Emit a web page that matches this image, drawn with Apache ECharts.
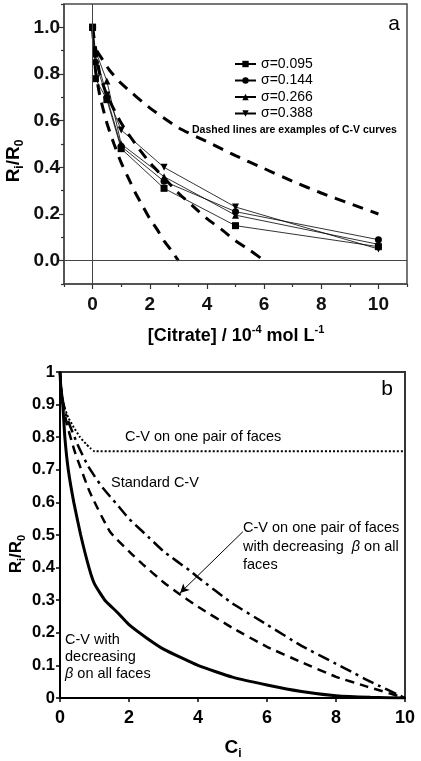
<!DOCTYPE html>
<html><head><meta charset="utf-8">
<script src="https://cdn.jsdelivr.net/npm/echarts/dist/echarts.min.js"></script>
<style>html,body{margin:0;padding:0;background:#fff}#c{width:421px;height:761px}</style>
</head><body><div id="c"></div>
<script>
// ---------- Panel a: measured data ----------
const citrate = [0, 0.1, 0.5, 1, 2.5, 5, 10];
const sig095 = [1.0, 0.78, 0.69, 0.48, 0.31, 0.15, 0.06];
const sig144 = [1.0, 0.85, 0.70, 0.49, 0.34, 0.21, 0.09];
const sig266 = [1.0, 0.90, 0.77, 0.50, 0.36, 0.195, 0.07];
const sig388 = [1.0, 0.88, 0.71, 0.56, 0.40, 0.23, 0.05];
const seriesNamesA = ['σ=0.095', 'σ=0.144', 'σ=0.266', 'σ=0.388'];
// example C-V curves (dashed)
const cv1X = [0.15, 0.25, 0.6, 1, 2, 3, 4, 5, 6, 7, 8, 9, 10];
const cv1Y = [0.9, 0.88, 0.815, 0.76, 0.655, 0.57, 0.51, 0.45, 0.395, 0.34, 0.29, 0.245, 0.2];
const cv2X = [0, 0.25, 0.5, 1, 1.5, 2, 2.5, 3, 3.5, 4, 4.5, 5, 5.5, 6];
const cv2Y = [1, 0.80, 0.71, 0.59, 0.50, 0.42, 0.355, 0.29, 0.235, 0.18, 0.135, 0.085, 0.045, 0];
const cv3X = [0, 0.1, 0.25, 0.5, 0.75, 1, 1.25, 1.5, 1.75, 2, 2.25, 2.5, 2.75, 3];
const cv3Y = [1, 0.82, 0.71, 0.59, 0.50, 0.42, 0.355, 0.29, 0.235, 0.18, 0.135, 0.085, 0.045, 0];
const aXLabels = [0, 2, 4, 6, 8, 10];
const aXMinor = [-1, 1, 3, 5, 7, 9, 11];
const aYLabels = [0, 0.2, 0.4, 0.6, 0.8, 1.0];
const aYMinor = [-0.1, 0.1, 0.3, 0.5, 0.7, 0.9, 1.1];

// ---------- Panel b: model curves ----------
const solidX = [0, 0.02, 0.08, 0.14, 0.24, 0.4, 0.6, 0.84, 1.0, 1.3, 1.65, 2, 2.5, 3, 4, 5, 6, 7, 8, 9, 10];
const solidY = [1, 0.96, 0.9, 0.8, 0.7, 0.6, 0.5, 0.4, 0.35, 0.3, 0.264, 0.225, 0.185, 0.15, 0.1, 0.064, 0.04, 0.02, 0.007, 0.002, 0];
const dotX = [0, 0.05, 0.12, 0.24, 0.4, 0.58, 0.75, 0.87, 1.0, 10];
const dotY = [1, 0.93, 0.895, 0.86, 0.83, 0.80, 0.78, 0.767, 0.757, 0.757];
const dashDotX = [0, 0.05, 0.2, 0.5, 0.82, 1.2, 1.64, 2, 2.6, 3, 3.77, 4, 5, 6, 7, 8, 8.4, 9, 10];
const dashDotY = [1, 0.93, 0.86, 0.78, 0.71, 0.65, 0.595, 0.55, 0.49, 0.45, 0.39, 0.37, 0.29, 0.225, 0.16, 0.105, 0.083, 0.05, 0];
const dashX = [0, 0.03, 0.09, 0.2, 0.43, 0.87, 1.45, 2, 2.4, 3, 3.38, 4, 5, 6, 7, 8, 8.9, 10];
const dashY = [1, 0.95, 0.9, 0.84, 0.755, 0.63, 0.51, 0.45, 0.41, 0.355, 0.325, 0.28, 0.215, 0.157, 0.11, 0.065, 0.035, 0];
const arrowFrom = [5.3, 0.51];
const arrowTo = [3.48, 0.322];

const FONT = "'Liberation Sans', Arial, sans-serif";
const zip = (xs, ys) => xs.map((x, i) => [x, ys[i]]);

const chart = echarts.init(document.getElementById('c'), null, {renderer: 'canvas'});

const dataLine = (name, ys, symbol, rot) => ({
  name, type: 'line', xAxisIndex: 0, yAxisIndex: 0,
  data: zip(citrate, ys), symbol, symbolSize: 7, symbolRotate: rot || 0,
  itemStyle: {color: '#000'}, lineStyle: {color: '#000', width: 0.8},
  z: 4
});
const cvLine = (xs, ys) => ({
  type: 'line', xAxisIndex: 0, yAxisIndex: 0, data: zip(xs, ys),
  showSymbol: false, symbol: 'none', smooth: 0.2,
  lineStyle: {color: '#000', width: 3, type: [11, 8]}, z: 3, silent: true
});
const bLine = (xs, ys, type, width) => ({
  type: 'line', xAxisIndex: 2, yAxisIndex: 2, data: zip(xs, ys),
  showSymbol: false, symbol: 'none', smooth: 0.15,
  lineStyle: {color: '#000', width, type}, silent: true
});

const sub = {fontSize: 12, fontWeight: 'bold', fontFamily: FONT, verticalAlign: 'bottom', lineHeight: 11, color: '#000'};
const sup = {fontSize: 11, fontWeight: 'bold', fontFamily: FONT, verticalAlign: 'top', lineHeight: 11, color: '#000'};

const option = {
  animation: false,
  backgroundColor: '#fff',
  textStyle: {fontFamily: FONT},
  grid: [
    {left: 64, top: 4, width: 343, height: 280, show: true, borderColor: '#4a4a4a', borderWidth: 1.5, backgroundColor: 'transparent'},
    {left: 60, top: 372, width: 345, height: 326, show: true, borderColor: '#333', borderWidth: 2, backgroundColor: 'transparent'}
  ],
  xAxis: [
    {gridIndex: 0, type: 'value', position: 'bottom', min: -1, max: 11, interval: 1,
     axisLine: {onZero: false, lineStyle: {color: '#4a4a4a', width: 1.5}},
     axisTick: {customValues: aXLabels, length: 5, lineStyle: {color: '#333', width: 1.2}},
     axisLabel: {customValues: aXLabels, margin: 11, fontSize: 19, fontWeight: 'bold', color: '#111', fontFamily: FONT},
     splitLine: {show: false}},
    {gridIndex: 0, type: 'value', position: 'bottom', min: -1, max: 11, interval: 1,
     axisLine: {show: false, onZero: false},
     axisTick: {customValues: aXMinor, length: 3, lineStyle: {color: '#333', width: 1.2}},
     axisLabel: {show: false}, splitLine: {show: false}},
    {gridIndex: 1, type: 'value', position: 'bottom', min: 0, max: 10, interval: 2,
     axisLine: {onZero: false, lineStyle: {color: '#000', width: 2}},
     axisTick: {length: 4, lineStyle: {color: '#000', width: 1.5}},
     axisLabel: {margin: 11, fontSize: 18, fontWeight: 'bold', color: '#000', fontFamily: FONT},
     splitLine: {show: false}}
  ],
  yAxis: [
    {gridIndex: 0, type: 'value', position: 'left', min: -0.1, max: 1.1, interval: 0.1,
     axisLine: {onZero: false, lineStyle: {color: '#4a4a4a', width: 1.5}},
     axisTick: {customValues: aYLabels, length: 5, lineStyle: {color: '#333', width: 1.2}},
     axisLabel: {customValues: aYLabels, margin: 4, fontSize: 19, fontWeight: 'bold', color: '#111', fontFamily: FONT,
                 formatter: v => Number(v).toFixed(1)},
     splitLine: {show: false}},
    {gridIndex: 0, type: 'value', position: 'left', min: -0.1, max: 1.1, interval: 0.1,
     axisLine: {show: false, onZero: false},
     axisTick: {customValues: aYMinor, length: 3, lineStyle: {color: '#333', width: 1.2}},
     axisLabel: {show: false}, splitLine: {show: false}},
    {gridIndex: 1, type: 'value', position: 'left', min: 0, max: 1, interval: 0.1,
     axisLine: {onZero: false, lineStyle: {color: '#000', width: 2}},
     axisTick: {length: 4, lineStyle: {color: '#000', width: 1.5}},
     axisLabel: {margin: 5, fontSize: 16.5, fontWeight: 'bold', color: '#000', fontFamily: FONT},
     splitLine: {show: false}}
  ],
  legend: {
    data: seriesNamesA, orient: 'vertical', left: 229, top: 52,
    itemWidth: 21, itemHeight: 8, itemGap: 2.5,
    textStyle: {fontSize: 14, color: '#000', fontFamily: FONT, lineHeight: 14},
    selectedMode: false
  },
  series: [
    cvLine(cv1X, cv1Y), cvLine(cv2X, cv2Y), cvLine(cv3X, cv3Y),
    Object.assign(dataLine(seriesNamesA[0], sig095, 'rect'), {
      markLine: {silent: true, symbol: 'none', label: {show: false}, animation: false,
        lineStyle: {color: '#444', width: 1, type: 'solid'},
        data: [{xAxis: 0}, {yAxis: 0}]}
    }),
    dataLine(seriesNamesA[1], sig144, 'circle'),
    dataLine(seriesNamesA[2], sig266, 'triangle'),
    dataLine(seriesNamesA[3], sig388, 'triangle', 180),
    bLine(solidX, solidY, 'solid', 3),
    bLine(dotX, dotY, [2, 2], 2),
    bLine(dashDotX, dashDotY, [12, 5, 3, 5], 2.5),
    Object.assign(bLine(dashX, dashY, [9, 6], 2.5), {
      markLine: {silent: true, symbol: ['none', 'arrow'], symbolSize: [7, 9], label: {show: false}, animation: false,
        lineStyle: {color: '#000', width: 1, type: 'solid'},
        data: [[{coord: arrowFrom}, {coord: arrowTo}]]}
    })
  ],
  graphic: [
    {type: 'text', x: 394, y: 24, style: {text: 'a', font: "21px " + FONT, fill: '#000', align: 'center', verticalAlign: 'middle'}},
    {type: 'text', x: 192, y: 130, style: {text: 'Dashed lines are examples of C-V curves', font: "bold 10.5px " + FONT, fill: '#000', align: 'left', verticalAlign: 'middle'}},
    {type: 'text', x: 14, y: 161, rotation: Math.PI / 2,
     style: {text: '{m|R}{s|i}{m|/R}{s|0}', align: 'center', verticalAlign: 'middle',
       rich: {m: {fontSize: 19, fontWeight: 'bold', fontFamily: FONT, lineHeight: 24, verticalAlign: 'middle', color: '#000'}, s: sub}}},
    {type: 'text', x: 236, y: 336,
     style: {text: '{m|[Citrate] / 10}{u|-4}{m| mol L}{u|-1}', align: 'center', verticalAlign: 'middle',
       rich: {m: {fontSize: 18, fontWeight: 'bold', fontFamily: FONT, lineHeight: 24, verticalAlign: 'middle', color: '#000'}, u: sup}}},
    {type: 'text', x: 387, y: 389, style: {text: 'b', font: "21px " + FONT, fill: '#000', align: 'center', verticalAlign: 'middle'}},
    {type: 'text', x: 125, y: 437, style: {text: 'C-V on one pair of faces', font: "14.5px " + FONT, fill: '#000', align: 'left', verticalAlign: 'middle'}},
    {type: 'text', x: 111, y: 483, style: {text: 'Standard C-V', font: "14.5px " + FONT, fill: '#000', align: 'left', verticalAlign: 'middle'}},
    {type: 'text', x: 243, y: 519,
     style: {text: '{n|C-V on one pair of faces}\n{n|with decreasing  }{b|β}{n| on all}\n{n|faces}', align: 'left', verticalAlign: 'top',
       rich: {n: {fontSize: 14.5, fontFamily: FONT, lineHeight: 18.5, color: '#000'}, b: {fontSize: 14.5, fontFamily: FONT, fontStyle: 'italic', lineHeight: 18.5, color: '#000'}}}},
    {type: 'text', x: 65, y: 631,
     style: {text: '{n|C-V with}\n{n|decreasing}\n{b|β}{n| on all faces}', align: 'left', verticalAlign: 'top',
       rich: {n: {fontSize: 14.5, fontFamily: FONT, lineHeight: 17, color: '#000'}, b: {fontSize: 14.5, fontFamily: FONT, fontStyle: 'italic', lineHeight: 17, color: '#000'}}}},
    {type: 'text', x: 16, y: 554, rotation: Math.PI / 2,
     style: {text: '{m|R}{s|i}{m|/R}{s|0}', align: 'center', verticalAlign: 'middle',
       rich: {m: {fontSize: 17, fontWeight: 'bold', fontFamily: FONT, lineHeight: 22, verticalAlign: 'middle', color: '#000'}, s: {fontSize: 11, fontWeight: 'bold', fontFamily: FONT, verticalAlign: 'bottom', lineHeight: 10, color: '#000'}}}},
    {type: 'text', x: 233, y: 748,
     style: {text: '{m|C}{s|i}', align: 'center', verticalAlign: 'middle',
       rich: {m: {fontSize: 19, fontWeight: 'bold', fontFamily: FONT, lineHeight: 24, verticalAlign: 'middle', color: '#000'}, s: sub}}}
  ]
};
chart.setOption(option);
</script>
</body></html>
